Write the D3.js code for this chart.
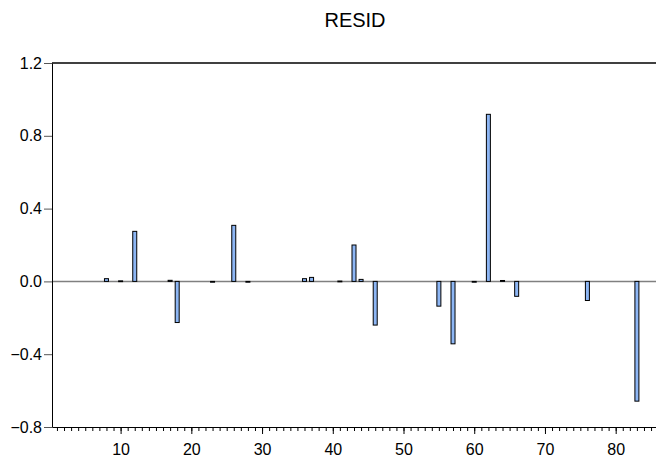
<!DOCTYPE html>
<html>
<head>
<meta charset="utf-8">
<script src="https://cdn.jsdelivr.net/npm/d3@7"></script>
<style>
  body { margin: 0; background: #fff; }
  text { font-family: "Liberation Sans", Arial, sans-serif; }
</style>
</head>
<body>
<div id="chart"></div>
<script>
// observations with a non-zero residual, and their values
var obs   = [8, 10, 12, 17, 18, 23, 26, 28, 36, 37, 41, 43, 44, 46, 55, 57, 60, 62, 64, 66, 76, 83];
var resid = [0.015, 0.003, 0.275, 0.006, -0.226, -0.002, 0.308, -0.003, 0.015, 0.022, 0.002, 0.2, 0.011, -0.24, -0.136, -0.343, -0.002, 0.918, 0.005, -0.082, -0.105, -0.658];
var yTicks = [-0.8, -0.4, 0.0, 0.4, 0.8, 1.2];
var xTicks = [10, 20, 30, 40, 50, 60, 70, 80];
var title = "RESID";

var W = 656, H = 459;
var margin = {top: 63, right: 0, bottom: 32, left: 52},
  width = W - margin.left - margin.right,
  height = H - margin.top - margin.bottom;

var svg = d3.select("#chart")
  .append("svg")
  .attr("width", W)
  .attr("height", H);

var g = svg.append("g")
  .attr("transform", "translate(" + margin.left + "," + margin.top + ")");

var x = d3.scaleLinear().domain([0.3, 85.7]).range([0, width]);
var y = d3.scaleLinear().domain([-0.8, 1.2]).range([height, 0]);

/****** TITLE ******/
svg.append("text")
  .attr("x", margin.left + width / 2 + 1)
  .attr("y", 27)
  .attr("text-anchor", "middle")
  .style("font-size", "20px")
  .text(title);

// zero line
g.append("line")
  .attr("x1", 0).attr("x2", width)
  .attr("y1", y(0)).attr("y2", y(0))
  .attr("stroke", "#808080")
  .attr("stroke-width", 1.5);

// bars
var bw = 4;
g.append("g")
  .selectAll("rect")
  .data(obs)
  .enter()
  .append("rect")
    .attr("x", function(d) { return x(d) - bw / 2; })
    .attr("y", function(d, i) { return Math.min(y(resid[i]), y(0)); })
    .attr("width", bw)
    .attr("height", function(d, i) { return Math.max(Math.abs(y(resid[i]) - y(0)), 0.8); })
    .attr("fill", "#8db6f4")
    .attr("stroke", "#000")
    .attr("stroke-width", 1);

/****** AXES ******/
var yAxis = g.append("g")
  .call(d3.axisLeft(y).tickValues(yTicks).tickSize(8).tickSizeOuter(0).tickFormat(d3.format(".1f")));
yAxis.selectAll("text").style("font-size", "16px").attr("dx", "1");
yAxis.select(".domain").attr("stroke", "#000");
yAxis.selectAll(".tick line").attr("stroke", "#555");

// minor ticks every observation
g.append("g")
  .attr("transform", "translate(0," + height + ")")
  .call(d3.axisBottom(x).tickValues(d3.range(1, 86)).tickSize(4).tickSizeOuter(0).tickFormat(""))
  .select(".domain").remove();

var xAxis = g.append("g")
  .attr("transform", "translate(0," + height + ")")
  .call(d3.axisBottom(x).tickValues(xTicks).tickSize(7).tickSizeOuter(0));
xAxis.selectAll("text").style("font-size", "16px").attr("dy", "1.1em");
xAxis.select(".domain").attr("stroke", "#000");

// top border
g.append("line")
  .attr("x1", 0).attr("x2", width)
  .attr("y1", 0).attr("y2", 0)
  .attr("stroke", "#000")
  .attr("stroke-width", 1.5);
</script>
</body>
</html>
